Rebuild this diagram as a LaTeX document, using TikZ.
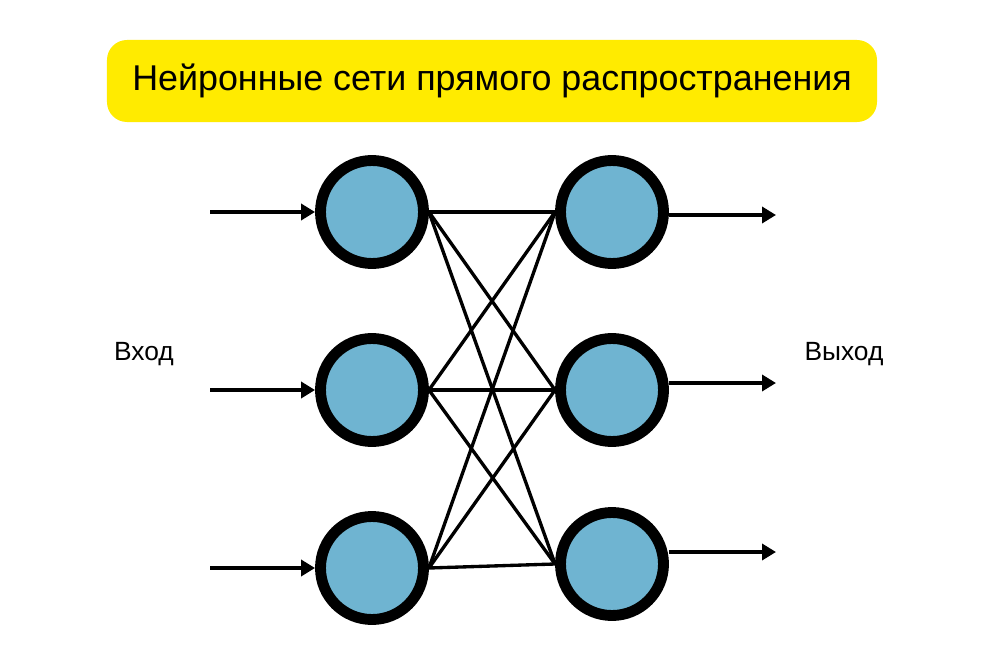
\documentclass[tikz,border=0pt]{standalone}
\usepackage{fontspec}
\setmainfont{Liberation Sans}
\usetikzlibrary{arrows,arrows.meta}
\usetikzlibrary{positioning}
\definecolor{titleyellow}{HTML}{FFEB00}
\definecolor{neuronblue}{HTML}{6FB4D1}

\begin{document}
\begin{tikzpicture}
	[x=0.2mm,y=-0.2mm,
	neuron/.style={circle,draw=black,line width=6.2pt,fill=neuronblue,minimum size=20.6mm,inner sep=0pt},
	link/.style={line width=1.9pt},
	flow/.style={line width=2pt,-{Triangle[length=2.8mm,width=3.2mm]}}]
	\useasboundingbox (0,0) rectangle (1000,662);
	% title
	\node[fill=titleyellow,rounded corners=4mm,minimum width=154mm,minimum height=16.4mm,font=\fontsize{20.4}{24}\selectfont] (title) at (492,81) {Нейронные сети прямого распространения};
	% neurons
	\node[neuron] (l1) at (372,212) {};
	\node[neuron] (l2) at (372,390) {};
	\node[neuron] (l3) at (372,568) {};
	\node[neuron] (r1) at (612,212) {};
	\node[neuron] (r2) at (612,390) {};
	\node[neuron] (r3) at (612,564) {};
	% connections
	\foreach \i in {1,2,3}
		\foreach \j in {1,2,3}
			\draw[link] (l\i.east) -- (r\j.west);
	% inputs and outputs
	\coordinate (a1) at (210,212);
	\coordinate (a2) at (210,390);
	\coordinate (a3) at (210,568);
	\draw[flow] (a1) -- (l1.west);
	\draw[flow] (a2) -- (l2.west);
	\draw[flow] (a3) -- (l3.west);
	\coordinate (b1) at (776,215);
	\coordinate (b2) at (776,383);
	\coordinate (b3) at (776,552);
	\draw[flow] (r1.east |- b1) -- (b1);
	\draw[flow] (r2.east |- b2) -- (b2);
	\draw[flow] (r3.east |- b3) -- (b3);
	% labels
	\node[font=\fontsize{15}{18}\selectfont] (vhod) at (144,354) {Вход};
	\node[font=\fontsize{15}{18}\selectfont] (vyhod) at (844,354) {Выход};
\end{tikzpicture}
\end{document}
